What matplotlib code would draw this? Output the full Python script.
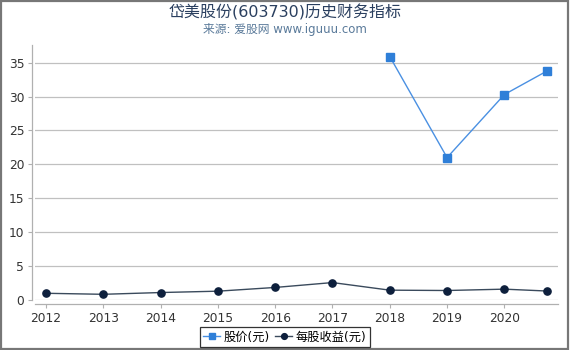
import matplotlib
matplotlib.use("Agg")
import matplotlib.pyplot as plt
from matplotlib.patches import Rectangle

plt.rcParams['font.family'] = ['DejaVu Sans', 'Noto Sans CJK SC']

years = [2012, 2013, 2014, 2015, 2016, 2017, 2018, 2019, 2020, 2020.75]
tick_years = [2012, 2013, 2014, 2015, 2016, 2017, 2018, 2019, 2020]
eps = [0.99, 0.84, 1.10, 1.30, 1.85, 2.57, 1.45, 1.40, 1.60, 1.32]
price_years = [2018, 2019, 2020, 2020.75]
price = [35.9, 21.0, 30.3, 33.8]

title = "岱美股份(603730)历史财务指标"
subtitle = "来源: 爱股网 www.iguuu.com"
price_label = "股价(元)"
eps_label = "每股收益(元)"

fig = plt.figure(figsize=(5.7, 3.5), dpi=100)
ax = fig.add_axes([35/570, 1-300/350, (557.7-35)/570, (300-45)/350])

ax.plot(price_years, price, color='#4a90e2', lw=1.0, marker='s', ms=5.2,
        markerfacecolor='#2f7fd8', markeredgecolor='#2f7fd8', label=price_label, zorder=3)
ax.plot(years, eps, color='#3a4a5c', lw=1.0, marker='o', ms=5.2,
        markerfacecolor='#0d1f3c', markeredgecolor='#0d1f3c', label=eps_label, zorder=3)

ax.set_xlim(2011.81, 2020.93)
ax.set_ylim(0, 37.6)
ax.set_xticks(tick_years)
ax.set_xticklabels([str(y) for y in tick_years])
ax.set_yticks([0, 5, 10, 15, 20, 25, 30, 35])
ax.yaxis.grid(True, color='#c0c0c0', lw=0.9)
ax.set_axisbelow(True)
for s in ['top', 'right']:
    ax.spines[s].set_visible(False)
for s in ['left', 'bottom']:
    ax.spines[s].set_color('#b0b0b0')
    ax.spines[s].set_linewidth(0.9)
ax.spines['left'].set_position(('outward', 2.2))
ax.spines['bottom'].set_position(('outward', 3))
ax.tick_params(axis='both', colors='#b0b0b0', labelcolor='#333333', labelsize=8.8, length=3, width=0.8, pad=2.5)

fig.text(0.5, 1-12/350, title, ha='center', va='center', fontsize=11.5, color='#2a3f5f')
fig.text(0.5, 1-29/350, subtitle, ha='center', va='center', fontsize=8.5, color='#5a7a9a')

leg = fig.legend(loc='center', bbox_to_anchor=(285/570, 1-337/350), ncol=2, fontsize=8.8,
                 frameon=True, fancybox=False, edgecolor='black', borderpad=0.3,
                 handlelength=1.4, handletextpad=0.3, columnspacing=0.4, markerscale=0.8)
leg.get_frame().set_linewidth(0.9)

fig.patches.append(Rectangle((0.002, 0.004), 0.994, 0.993, transform=fig.transFigure,
                             fill=False, edgecolor='#777777', lw=1.6))

fig.savefig('out.png', dpi=100)
